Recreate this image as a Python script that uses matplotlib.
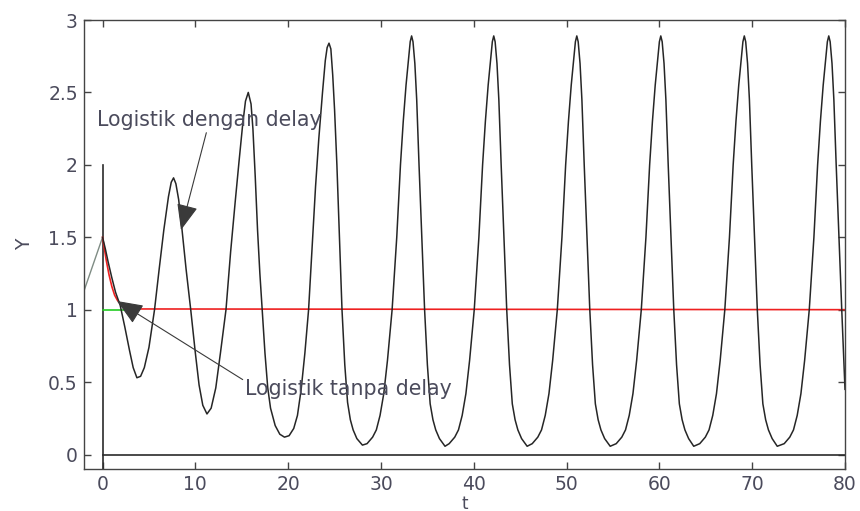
import matplotlib
matplotlib.use("Agg")
import matplotlib.pyplot as plt

# logistik dengan delay
t_delay = [0.0, 0.3, 0.6, 1.0, 1.4, 1.9, 2.4, 2.9, 3.3, 3.7, 4.1, 4.5, 5.0, 5.6, 6.1, 6.6, 7.1, 7.4, 7.65,
           7.9, 8.2, 8.55, 9.0, 9.5, 10.0, 10.4, 10.8, 11.25, 11.7, 12.2, 12.7, 13.3, 13.8, 14.3, 14.7,
           15.1, 15.4, 15.7, 16.0, 16.2, 16.45, 16.7, 16.95, 17.2, 17.5, 17.8, 18.1, 18.6, 19.1, 19.6,
           20.1, 20.6, 21.0, 21.4, 21.8, 22.2, 22.6, 22.95, 23.3, 23.7, 24.0, 24.2, 24.4, 24.6, 24.8,
           25.0, 25.25, 25.5, 25.8, 26.1, 26.4, 26.7, 27.0, 27.4, 28.0,
           28.5, 29.1, 29.5, 29.9, 30.3, 30.7, 31.2, 31.7, 32.1, 32.4, 32.7, 32.95, 33.15, 33.3,
           33.45, 33.65, 33.85, 34.1, 34.4, 34.7, 35.0, 35.3, 35.6, 35.9, 36.3, 36.9,
           37.35, 37.95, 38.35, 38.75, 39.15, 39.55, 40.05, 40.55, 40.95, 41.25, 41.55, 41.8, 42.0, 42.15,
           42.3, 42.5, 42.7, 42.95, 43.25, 43.55, 43.85, 44.15, 44.45, 44.75, 45.15, 45.75,
           46.3, 46.9, 47.3, 47.7, 48.1, 48.5, 49.0, 49.5, 49.9, 50.2, 50.5, 50.75, 50.95, 51.1,
           51.25, 51.45, 51.65, 51.9, 52.2, 52.5, 52.8, 53.1, 53.4, 53.7, 54.1, 54.7,
           55.35, 55.95, 56.35, 56.75, 57.15, 57.55, 58.05, 58.55, 58.95, 59.25, 59.55, 59.8, 60.0, 60.15,
           60.3, 60.5, 60.7, 60.95, 61.25, 61.55, 61.85, 62.15, 62.45, 62.75, 63.15, 63.7,
           64.35, 64.95, 65.35, 65.75, 66.15, 66.55, 67.05, 67.55, 67.95, 68.25, 68.55, 68.8, 69.0, 69.15,
           69.3, 69.5, 69.7, 69.95, 70.25, 70.55, 70.85, 71.15, 71.45, 71.75, 72.15, 72.7,
           73.45, 74.05, 74.45, 74.85, 75.25, 75.65, 76.15, 76.65, 77.05, 77.35, 77.65, 77.9, 78.1, 78.25,
           78.4, 78.6, 78.8, 79.05, 79.35, 79.65, 80.0]
y_delay = [1.50, 1.42, 1.33, 1.22, 1.12, 1.03, 0.88, 0.72, 0.60, 0.53, 0.54, 0.60, 0.74, 1.00, 1.28, 1.55, 1.78, 1.88, 1.91,
           1.87, 1.76, 1.56, 1.28, 1.00, 0.70, 0.48, 0.34, 0.28, 0.32, 0.46, 0.70, 1.00, 1.40, 1.75, 2.02,
           2.28, 2.44, 2.50, 2.42, 2.25, 1.92, 1.55, 1.25, 1.00, 0.70, 0.46, 0.32, 0.20, 0.14, 0.12,
           0.13, 0.18, 0.27, 0.45, 0.70, 1.00, 1.45, 1.85, 2.18, 2.50, 2.72, 2.81, 2.84, 2.80, 2.62,
           2.38, 2.00, 1.55, 1.00, 0.62, 0.36, 0.24, 0.17, 0.11, 0.065,
           0.075, 0.12, 0.17, 0.27, 0.42, 0.65, 1.00, 1.50, 2.00, 2.30, 2.55, 2.72, 2.85, 2.89,
           2.85, 2.70, 2.45, 2.00, 1.50, 1.00, 0.62, 0.35, 0.24, 0.17, 0.11, 0.057,
           0.075, 0.12, 0.17, 0.27, 0.42, 0.65, 1.00, 1.50, 2.00, 2.30, 2.55, 2.72, 2.85, 2.89,
           2.85, 2.70, 2.45, 2.00, 1.50, 1.00, 0.62, 0.35, 0.24, 0.17, 0.11, 0.057,
           0.075, 0.12, 0.17, 0.27, 0.42, 0.65, 1.00, 1.50, 2.00, 2.30, 2.55, 2.72, 2.85, 2.89,
           2.85, 2.70, 2.45, 2.00, 1.50, 1.00, 0.62, 0.35, 0.24, 0.17, 0.11, 0.057,
           0.075, 0.12, 0.17, 0.27, 0.42, 0.65, 1.00, 1.50, 2.00, 2.30, 2.55, 2.72, 2.85, 2.89,
           2.85, 2.70, 2.45, 2.00, 1.50, 1.00, 0.62, 0.35, 0.24, 0.17, 0.11, 0.057,
           0.075, 0.12, 0.17, 0.27, 0.42, 0.65, 1.00, 1.50, 2.00, 2.30, 2.55, 2.72, 2.85, 2.89,
           2.85, 2.70, 2.45, 2.00, 1.50, 1.00, 0.62, 0.35, 0.24, 0.17, 0.11, 0.057,
           0.075, 0.12, 0.17, 0.27, 0.42, 0.65, 1.00, 1.50, 2.00, 2.30, 2.55, 2.72, 2.85, 2.89,
           2.85, 2.70, 2.45, 2.00, 1.50, 1.00, 0.45]

# logistik tanpa delay
t_nodelay = [0.0, 0.2, 0.4, 0.7, 1.0, 1.3, 1.6, 2.0, 2.5, 3.0, 80.0]
y_nodelay = [1.50, 1.42, 1.34, 1.24, 1.16, 1.10, 1.065, 1.035, 1.015, 1.005, 1.0]

# short green segment and the grey history line
t_green = [0.0, 2.6]
y_green = [1.0, 1.0]
t_hist = [-2.0, 0.0]
y_hist = [1.13, 1.5]

xticks = [0, 10, 20, 30, 40, 50, 60, 70, 80]
yticks = [0, 0.5, 1, 1.5, 2, 2.5, 3]
ytick_labels = ["0", "0.5", "1", "1.5", "2", "2.5", "3"]

plt.rcParams['font.family'] = ['DejaVu Sans']
txt_col = '#4b4b5c'

fig = plt.figure(figsize=(8.6, 5.11), dpi=100)
ax = fig.add_axes([84 / 860, 1 - 469 / 511, 761 / 860, 449 / 511])

ax.plot([0, 0], [-0.2, 2.0], color='#2b2b2b', lw=1.2)
ax.plot([0, 80], [0, 0], color='#2b2b2b', lw=1.2)
ax.plot(t_hist, y_hist, color='#7f8c84', lw=1.0)
ax.plot(t_green, y_green, color='#22cc22', lw=1.2)
ax.plot(t_nodelay, y_nodelay, color='#ee2020', lw=1.2)
ax.plot(t_delay, y_delay, color='#262626', lw=1.1)

ax.set_xlim(-2, 80)
ax.set_ylim(-0.1, 3)
ax.set_xticks(xticks)
ax.set_yticks(yticks)
ax.set_yticklabels(ytick_labels)
ax.tick_params(direction='in', length=5, width=1, top=True, right=True,
               labelsize=13.5, labelcolor=txt_col, color='#444444')
ax.tick_params(axis='x', pad=4.5)
ax.tick_params(axis='y', pad=4.5)
for s in ax.spines.values():
    s.set_color('#444444')
    s.set_linewidth(1.0)

ax.set_xlabel('t', fontsize=12, color=txt_col, va='top')
ax.xaxis.set_label_coords(0.5, -0.057)
ax.set_ylabel('Y', fontsize=13.5, color=txt_col, labelpad=10)

ax.annotate('Logistik dengan delay', xy=(8.45, 1.55), xytext=(-0.6, 2.31),
            fontsize=14.8, color=txt_col, va='center', ha='left',
            arrowprops=dict(arrowstyle='-|>,head_length=1.1,head_width=0.45', color='#3a3a3a',
                            lw=0.8, shrinkA=0, shrinkB=0, relpos=(0.49, 0.0)))
ax.annotate('Logistik tanpa delay', xy=(1.55, 1.06), xytext=(15.4, 0.45),
            fontsize=14.8, color=txt_col, va='center', ha='left',
            arrowprops=dict(arrowstyle='-|>,head_length=1.1,head_width=0.45', color='#3a3a3a',
                            lw=0.8, shrinkA=0, shrinkB=0, relpos=(0.0, 0.9)))

fig.savefig('out.png', dpi=100)
